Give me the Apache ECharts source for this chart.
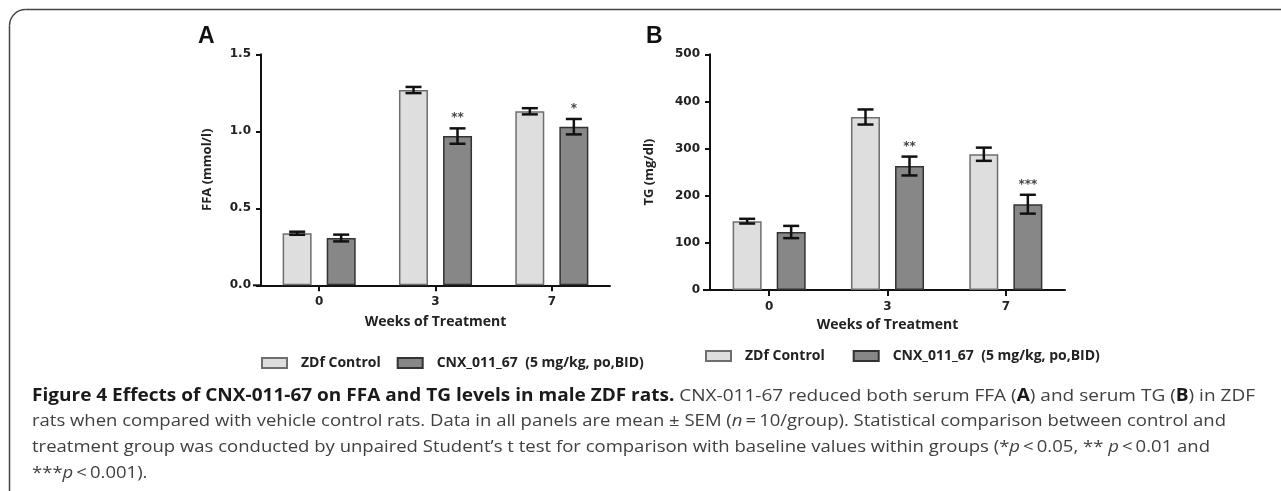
<!DOCTYPE html>
<html><head><meta charset="utf-8">
<script src="https://cdn.jsdelivr.net/npm/echarts@6/dist/echarts.min.js"></script>
<style>html,body{margin:0;padding:0;background:#fff}#c{width:1281px;height:491px}</style>
</head><body><div id="c"></div>
<script>
// ---------- data ----------
const weeks = ['0', '3', '7'];
const seriesNames = ['ZDf Control', 'CNX_011_67  (5 mg/kg, po,BID)'];

const ffaControl    = [0.338, 1.268, 1.130];
const ffaControlSem = [0.010, 0.020, 0.020];
const ffaTreated    = [0.307, 0.969, 1.030];
const ffaTreatedSem = [0.022, 0.050, 0.050];
const ffaStars      = ['', '**', '*'];

const tgControl    = [146, 367, 288];
const tgControlSem = [5, 16, 14];
const tgTreated    = [123, 263, 182];
const tgTreatedSem = [13, 20, 20];
const tgStars      = ['', '**', '***'];

const ffaAxis = { min: 0, max: 1.5, interval: 0.5, name: 'FFA (mmol/l)' };
const tgAxis  = { min: 0, max: 500, interval: 100, name: 'TG (mg/dl)' };
const xName = 'Weeks of Treatment';

// ---------- styles ----------
const AX = '#111';
const lightStyle = { color: '#dedede', borderColor: '#6e6e6e', borderWidth: 1.5 };
const darkStyle  = { color: '#878787', borderColor: '#333', borderWidth: 1.5 };
const gridA = { left: 261, top: 54.3, width: 349, height: 231 };
const gridB = { left: 710, top: 54.3, width: 355, height: 235.7 };
const BAR_W = 29, OFF = 22;

function errRender(means, sems, stars, side) {
  return function (params, api) {
    const i = params.dataIndex;
    const c = api.coord([i, means[i]]);
    const x = c[0] + side * OFF;
    const top = api.coord([i, means[i] + sems[i]])[1];
    const bot = api.coord([i, means[i] - sems[i]])[1];
    const cw = 8;
    const st = { stroke: '#111', lineWidth: 2.5 };
    const children = [
      { type: 'line', shape: { x1: x, y1: top, x2: x, y2: bot }, style: st },
      { type: 'line', shape: { x1: x - cw, y1: top, x2: x + cw, y2: top }, style: st },
      { type: 'line', shape: { x1: x - cw, y1: bot, x2: x + cw, y2: bot }, style: st }
    ];
    if (stars && stars[i]) {
      children.push({ type: 'text', x: x, y: top - 4, style: {
        text: stars[i], align: 'center', verticalAlign: 'bottom',
        font: 'bold 12px "DejaVu Sans"', fill: '#444' } });
    }
    return { type: 'group', children };
  };
}

function yAxisOf(gi, ax, gap, fmt) {
  return {
    type: 'value', gridIndex: gi, min: ax.min, max: ax.max, interval: ax.interval,
    name: ax.name, nameLocation: 'middle', nameGap: gap,
    nameTextStyle: { fontFamily: 'Open Sans', fontWeight: 'bold', fontSize: 13, color: '#222' },
    axisLine: { show: true, lineStyle: { color: AX, width: 2 } },
    axisTick: { show: true, length: 5, lineStyle: { color: AX, width: 2 } },
    splitLine: { show: false },
    axisLabel: { margin: 10, formatter: fmt, fontFamily: 'DejaVu Sans', fontWeight: 'bold', fontSize: 12, color: '#222' }
  };
}
function xAxisOf(gi, gap) {
  return {
    type: 'category', gridIndex: gi, data: weeks,
    name: xName, nameLocation: 'middle', nameGap: gap,
    nameTextStyle: { fontFamily: 'Open Sans', fontWeight: 'bold', fontSize: 14, color: '#222' },
    axisLine: { show: true, lineStyle: { color: AX, width: 2 } },
    axisTick: { show: true, alignWithLabel: true, length: 6, lineStyle: { color: AX, width: 2 } },
    axisLabel: { margin: 11, fontFamily: 'DejaVu Sans', fontWeight: 'bold', fontSize: 12, color: '#222' },
    splitLine: { show: false }
  };
}
function legendOf(left, top, gap) {
  return {
    data: seriesNames, left, top, orient: 'horizontal', icon: 'rect',
    itemWidth: 25, itemHeight: 10, itemGap: gap, selectedMode: false,
    textStyle: { fontFamily: 'Open Sans', fontWeight: 'bold', fontSize: 14, color: '#222', padding: [0, 0, 0, 9] }
  };
}

// ---------- caption ----------
const CAP_FONT = 'Open Sans', CAP_SIZE = 17;
const capStyles = {
  b: { fontFamily: CAP_FONT, fontSize: CAP_SIZE, fontWeight: 'bold', fill: '#1a1a1a' },
  n: { fontFamily: CAP_FONT, fontSize: CAP_SIZE, fontWeight: 'normal', fill: '#404040' },
  i: { fontFamily: CAP_FONT, fontSize: CAP_SIZE, fontWeight: 'normal', fontStyle: 'italic', fill: '#404040' }
};
const captionLines = [
  [['b', 'Figure 4 Effects of CNX-011-67 on FFA and TG levels in male ZDF rats.'], ['n', ' CNX-011-67 reduced both serum FFA ('], ['b', 'A'], ['n', ') and serum TG ('], ['b', 'B'], ['n', ') in ZDF']],
  [['n', 'rats when compared with vehicle control rats. Data in all panels are mean \u00b1 SEM ('], ['i', 'n'], ['n', '\u2009=\u200910/group). Statistical comparison between control and']],
  [['n', 'treatment group was conducted by unpaired Student\u2019s t test for comparison with baseline values within groups (*'], ['i', 'p'], ['n', '\u2009<\u20090.05, ** '], ['i', 'p'], ['n', '\u2009<\u20090.01 and']],
  [['n', '***'], ['i', 'p'], ['n', '\u2009<\u20090.001).']]
];
const capTargets = [1223, 1194, 1178, null];
const capY = [396, 421.5, 447, 473];
const CAP_X = 32;

const mctx = document.createElement('canvas').getContext('2d');
function measureLine(segs) {
  let w = 0;
  segs.forEach(([s, t]) => {
    const st = capStyles[s];
    mctx.font = (st.fontStyle || 'normal') + ' ' + st.fontWeight + ' ' + st.fontSize + 'px "' + st.fontFamily + '"';
    w += mctx.measureText(t).width;
  });
  return w;
}
const scales = captionLines.map((l, k) => capTargets[k] ? capTargets[k] / measureLine(l) : null);
const avgScale = (scales[1] + scales[2]) / 2;

const graphics = [];
captionLines.forEach((segs, k) => {
  graphics.push({
    type: 'text', x: CAP_X, y: capY[k], scaleX: scales[k] || avgScale, scaleY: 1,
    style: {
      text: segs.map(([s, t]) => '{' + s + '|' + t + '}').join(''),
      rich: capStyles, verticalAlign: 'middle', align: 'left'
    }
  });
});
// panel letters
graphics.push({ type: 'text', x: 198, y: 37, style: { text: 'A', font: 'bold 23px "Liberation Sans"', fill: '#111', verticalAlign: 'middle' } });
graphics.push({ type: 'text', x: 646, y: 37, style: { text: 'B', font: 'bold 23px "Liberation Sans"', fill: '#111', verticalAlign: 'middle' } });
// frame
const frameStyle = { fill: null, stroke: '#444', lineWidth: 1.5 };
graphics.push({ type: 'line', shape: { x1: 25.5, y1: 9.5, x2: 1281, y2: 9.5 }, style: frameStyle });
graphics.push({ type: 'line', shape: { x1: 9.5, y1: 25.5, x2: 9.5, y2: 491 }, style: frameStyle });
graphics.push({ type: 'arc', shape: { cx: 25.5, cy: 25.5, r: 16, startAngle: Math.PI, endAngle: Math.PI * 1.5, clockwise: true }, style: frameStyle });
// x-axis lines extend slightly left of the y axis
graphics.push({ type: 'line', shape: { x1: gridA.left - 8, y1: gridA.top + gridA.height, x2: gridA.left, y2: gridA.top + gridA.height }, style: { stroke: AX, lineWidth: 2 } });
graphics.push({ type: 'line', shape: { x1: gridB.left - 7, y1: gridB.top + gridB.height, x2: gridB.left, y2: gridB.top + gridB.height }, style: { stroke: AX, lineWidth: 2 } });

const chart = echarts.init(document.getElementById('c'), null, { renderer: 'canvas' });
chart.setOption({
  animation: false,
  backgroundColor: '#fff',
  grid: [Object.assign({ containLabel: false }, gridA),
         Object.assign({ containLabel: false }, gridB)],
  xAxis: [xAxisOf(0, 30), xAxisOf(1, 28)],
  yAxis: [yAxisOf(0, ffaAxis, 47, v => v.toFixed(1)), yAxisOf(1, tgAxis, 54, v => String(v))],
  legend: [legendOf(256, 351, 16), legendOf(700, 344, 28)],
  graphic: graphics,
  series: [
    { name: seriesNames[0], type: 'bar', xAxisIndex: 0, yAxisIndex: 0, data: ffaControl, barWidth: BAR_W, barGap: '52%', itemStyle: lightStyle },
    { name: seriesNames[1], type: 'bar', xAxisIndex: 0, yAxisIndex: 0, data: ffaTreated, barWidth: BAR_W, barGap: '52%', itemStyle: darkStyle },
    { name: seriesNames[0], type: 'bar', xAxisIndex: 1, yAxisIndex: 1, data: tgControl, barWidth: BAR_W, barGap: '52%', itemStyle: lightStyle },
    { name: seriesNames[1], type: 'bar', xAxisIndex: 1, yAxisIndex: 1, data: tgTreated, barWidth: BAR_W, barGap: '52%', itemStyle: darkStyle },
    { type: 'custom', xAxisIndex: 0, yAxisIndex: 0, z: 5, data: weeks.map((w, i) => [i, ffaControl[i]]), renderItem: errRender(ffaControl, ffaControlSem, null, -1) },
    { type: 'custom', xAxisIndex: 0, yAxisIndex: 0, z: 5, data: weeks.map((w, i) => [i, ffaTreated[i]]), renderItem: errRender(ffaTreated, ffaTreatedSem, ffaStars, 1) },
    { type: 'custom', xAxisIndex: 1, yAxisIndex: 1, z: 5, data: weeks.map((w, i) => [i, tgControl[i]]), renderItem: errRender(tgControl, tgControlSem, null, -1) },
    { type: 'custom', xAxisIndex: 1, yAxisIndex: 1, z: 5, data: weeks.map((w, i) => [i, tgTreated[i]]), renderItem: errRender(tgTreated, tgTreatedSem, tgStars, 1) }
  ]
});
</script></body></html>
